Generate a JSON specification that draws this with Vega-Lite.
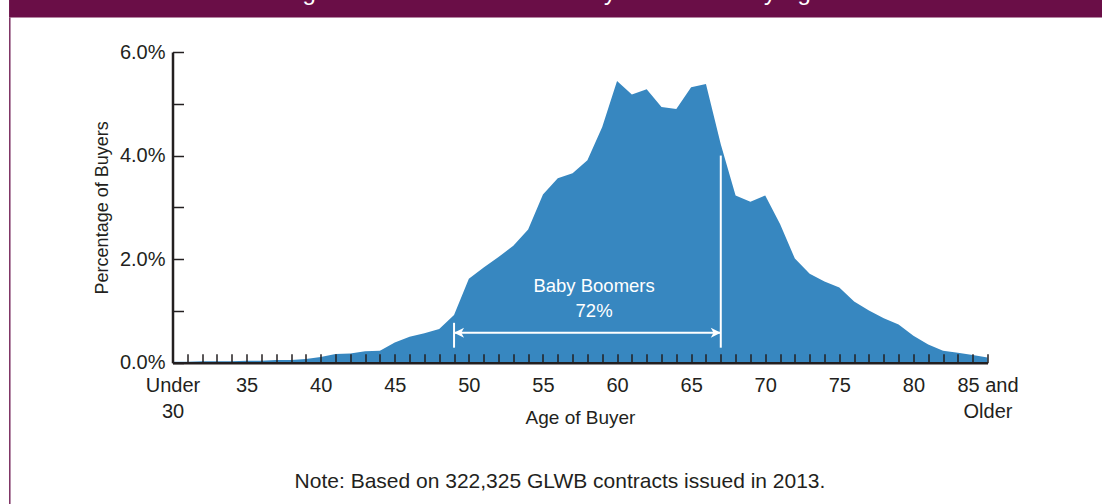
{
  "$schema": "https://vega.github.io/schema/vega-lite/v6.json",
  "autosize": "none",
  "width": 815,
  "height": 310.7,
  "padding": {"left": 172.5, "top": 52, "right": 114.5, "bottom": 141.3},
  "background": "white",
  "config": {
    "view": {"stroke": null},
    "font": "Liberation Sans, Arial, sans-serif",
    "axis": {"grid": false, "labelFont": "Liberation Sans, Arial, sans-serif", "titleFont": "Liberation Sans, Arial, sans-serif"}
  },
  "data": {
    "values": [
      {"age": 30, "pct": 0.02}, {"age": 31, "pct": 0.02}, {"age": 32, "pct": 0.03}, {"age": 33, "pct": 0.03},
      {"age": 34, "pct": 0.03}, {"age": 35, "pct": 0.04}, {"age": 36, "pct": 0.04}, {"age": 37, "pct": 0.05},
      {"age": 38, "pct": 0.05}, {"age": 39, "pct": 0.07}, {"age": 40, "pct": 0.11}, {"age": 41, "pct": 0.17},
      {"age": 42, "pct": 0.18}, {"age": 43, "pct": 0.22}, {"age": 44, "pct": 0.23}, {"age": 45, "pct": 0.39},
      {"age": 46, "pct": 0.50}, {"age": 47, "pct": 0.57}, {"age": 48, "pct": 0.65}, {"age": 49, "pct": 0.92},
      {"age": 50, "pct": 1.62}, {"age": 51, "pct": 1.84}, {"age": 52, "pct": 2.04}, {"age": 53, "pct": 2.26},
      {"age": 54, "pct": 2.57}, {"age": 55, "pct": 3.25}, {"age": 56, "pct": 3.56}, {"age": 57, "pct": 3.66},
      {"age": 58, "pct": 3.91}, {"age": 59, "pct": 4.55}, {"age": 60, "pct": 5.44}, {"age": 61, "pct": 5.18},
      {"age": 62, "pct": 5.28}, {"age": 63, "pct": 4.94}, {"age": 64, "pct": 4.90}, {"age": 65, "pct": 5.32},
      {"age": 66, "pct": 5.38}, {"age": 67, "pct": 4.22}, {"age": 68, "pct": 3.23}, {"age": 69, "pct": 3.11},
      {"age": 70, "pct": 3.23}, {"age": 71, "pct": 2.68}, {"age": 72, "pct": 2.01}, {"age": 73, "pct": 1.72},
      {"age": 74, "pct": 1.57}, {"age": 75, "pct": 1.45}, {"age": 76, "pct": 1.18}, {"age": 77, "pct": 1.01},
      {"age": 78, "pct": 0.86}, {"age": 79, "pct": 0.74}, {"age": 80, "pct": 0.52}, {"age": 81, "pct": 0.35},
      {"age": 82, "pct": 0.23}, {"age": 83, "pct": 0.19}, {"age": 84, "pct": 0.15}, {"age": 85, "pct": 0.10}
    ]
  },
  "layer": [
    {
      "data": {"values": [{"band": "header"}]},
      "mark": {"type": "rect", "color": "#6a0e47", "clip": false},
      "encoding": {
        "x": {"datum": 18.97, "type": "quantitative"},
        "x2": {"datum": 96},
        "y": {"datum": 6.667, "type": "quantitative"},
        "y2": {"datum": 7.6}
      }
    },
    {
      "data": {"values": [{"band": "border"}]},
      "mark": {"type": "rule", "color": "#7b2d60", "strokeWidth": 1.5, "clip": false},
      "encoding": {
        "x": {"datum": 19.02, "type": "quantitative"},
        "y": {"datum": 6.667, "type": "quantitative"},
        "y2": {"datum": -3.0}
      }
    },
    {
      "data": {"values": [{"heading": "Figure 1. Distribution of Annuity Purchasers by Age"}]},
      "mark": {"type": "text", "color": "white", "fontSize": 24, "baseline": "alphabetic", "align": "center", "clip": false},
      "encoding": {
        "x": {"datum": 55.7, "type": "quantitative"},
        "y": {"datum": 7.005, "type": "quantitative"},
        "text": {"field": "heading"}
      }
    },
    {
      "data": {"values": [{"note": "Note: Based on 322,325 GLWB contracts issued in 2013."}]},
      "mark": {"type": "text", "color": "#231f20", "fontSize": 21, "baseline": "alphabetic", "align": "center", "clip": false},
      "encoding": {
        "x": {"datum": 56.15, "type": "quantitative"},
        "y": {"datum": -2.42, "type": "quantitative"},
        "text": {"field": "note"}
      }
    },
    {
      "mark": {"type": "area", "color": "#3787c0", "opacity": 1, "interpolate": "linear"},
      "encoding": {
        "x": {
          "field": "age", "type": "quantitative",
          "scale": {"domain": [30, 85], "nice": false, "zero": false},
          "axis": {
            "values": [30,31,32,33,34,35,36,37,38,39,40,41,42,43,44,45,46,47,48,49,50,51,52,53,54,55,56,57,58,59,60,61,62,63,64,65,66,67,68,69,70,71,72,73,74,75,76,77,78,79,80,81,82,83,84,85],
            "tickCount": 100,
            "format": "d",
            "labelExpr": "datum.value == 30 ? ['Under', '30'] : datum.value == 85 ? ['85 and', 'Older'] : (datum.value % 5 == 0 ? format(datum.value, 'd') : '')",
            "labelOverlap": false,
            "labelFlush": false,
            "labelFontSize": 20,
            "labelColor": "#231f20",
            "labelPadding": 21.5,
            "labelLineHeight": 26,
            "tickSize": -9,
            "tickWidth": 1.5,
            "tickColor": "#231f20",
            "domainColor": "#231f20",
            "domainWidth": 2.5,
            "title": "Age of Buyer",
            "titleFontSize": 19,
            "titleFontWeight": "normal",
            "titleColor": "#231f20",
            "titleBaseline": "alphabetic",
            "titleY": 61,
            "zindex": 1
          }
        },
        "y": {
          "field": "pct", "type": "quantitative",
          "scale": {"domain": [0, 6], "nice": false},
          "axis": {
            "values": [0, 1, 2, 3, 4, 5, 6],
            "tickCount": 10,
            "labelExpr": "datum.value % 2 == 0 ? format(datum.value, '.1f') + '%' : ''",
            "labelOverlap": false,
            "labelFontSize": 20,
            "labelColor": "#231f20",
            "labelPadding": 18.5,
            "tickSize": -11,
            "tickWidth": 1.5,
            "tickColor": "#231f20",
            "domainColor": "#231f20",
            "domainWidth": 2.5,
            "title": "Percentage of Buyers",
            "titleFontSize": 18,
            "titleFontWeight": "normal",
            "titleColor": "#231f20",
            "titlePadding": 8,
            "zindex": 1
          }
        }
      }
    },
    {
      "data": {"values": [{"from": 49, "to": 67}]},
      "mark": {"type": "rule", "color": "white", "strokeWidth": 2},
      "encoding": {
        "x": {"field": "from", "type": "quantitative"},
        "x2": {"field": "to"},
        "y": {"datum": 0.58, "type": "quantitative"}
      }
    },
    {
      "data": {"values": [{"age": 49, "top": 0.77, "bottom": 0.29}, {"age": 67, "top": 4.0, "bottom": 0.29}]},
      "mark": {"type": "rule", "color": "white", "strokeWidth": 2},
      "encoding": {
        "x": {"field": "age", "type": "quantitative"},
        "y": {"field": "top", "type": "quantitative"},
        "y2": {"field": "bottom"}
      }
    },
    {
      "data": {"values": [{"age": 49, "dir": "left"}, {"age": 67, "dir": "right"}]},
      "mark": {"type": "point", "filled": true, "color": "white", "opacity": 1, "size": 330},
      "encoding": {
        "x": {"field": "age", "type": "quantitative"},
        "y": {"datum": 0.58, "type": "quantitative"},
        "shape": {
          "field": "dir", "type": "nominal", "legend": null,
          "scale": {"domain": ["left", "right"], "range": ["M0,0L1.1,-0.55L0.8,0L1.1,0.55Z", "M0,0L-1.1,-0.55L-0.8,0L-1.1,0.55Z"]}
        }
      }
    },
    {
      "data": {"values": [{"label": ["Baby Boomers", "72%"]}]},
      "mark": {"type": "text", "color": "white", "fontSize": 18.5, "baseline": "alphabetic", "align": "center", "lineHeight": 25},
      "encoding": {
        "x": {"datum": 58.45, "type": "quantitative"},
        "y": {"datum": 1.365, "type": "quantitative"},
        "text": {"field": "label"}
      }
    }
  ]
}
